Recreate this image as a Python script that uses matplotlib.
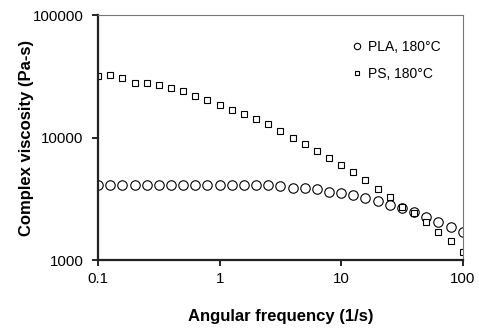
import numpy as np
import matplotlib.pyplot as plt
from matplotlib.lines import Line2D

plt.rcParams['font.family'] = ['Liberation Sans', 'DejaVu Sans']

# angular frequency, 10 points per decade from 0.1 to 100 1/s
freq = [0.1, 0.126, 0.158, 0.2, 0.251, 0.316, 0.398, 0.501, 0.631, 0.794,
        1.0, 1.26, 1.58, 2.0, 2.51, 3.16, 3.98, 5.01, 6.31, 7.94,
        10.0, 12.6, 15.8, 20.0, 25.1, 31.6, 39.8, 50.1, 63.1, 79.4, 100.0]

pla = [4080, 4080, 4080, 4080, 4080, 4080, 4080, 4080, 4080, 4080,
       4080, 4080, 4080, 4080, 4070, 3990, 3890, 3890, 3770, 3610,
       3540, 3370, 3200, 3050, 2840, 2640, 2480, 2260, 2040, 1850, 1680]

ps = [32000, 32200, 30800, 28000, 28000, 26700, 25400, 23900, 22000, 20400,
      18600, 16900, 15700, 14100, 12800, 11300, 10000, 8900, 7760, 6800,
      5980, 5190, 4490, 3790, 3260, 2720, 2420, 2030, 1690, 1430, 1170]

fig = plt.figure(figsize=(4.79, 3.30), dpi=100)
ax = fig.add_axes([0.2046, 0.212, 0.7614, 0.7425])

ax.plot(freq, pla, linestyle='none', marker='o', markersize=6.8,
        markerfacecolor='white', markeredgecolor='black', markeredgewidth=0.8)
ax.plot(freq, ps, linestyle='none', marker='s', markersize=4.6,
        markerfacecolor='white', markeredgecolor='black', markeredgewidth=0.8)

ax.set_xscale('log')
ax.set_yscale('log')
ax.set_xlim(0.1, 100)
ax.set_ylim(1000, 100000)

ax.set_xticks([0.1, 1, 10, 100])
ax.set_xticklabels(['0.1', '1', '10', '100'])
ax.set_yticks([1000, 10000, 100000])
ax.set_yticklabels(['1000', '10000', '100000'])
ax.minorticks_off()
ax.tick_params(axis='both', direction='out', length=4.3, width=1.2, labelsize=10.8)
ax.tick_params(axis='x', pad=4)
ax.tick_params(axis='y', pad=6)

for side in ['left', 'bottom']:
    ax.spines[side].set_linewidth(1.6)
    ax.spines[side].set_color('#222222')
for side in ['top', 'right']:
    ax.spines[side].set_linewidth(0.8)
    ax.spines[side].set_color('#777777')

ax.set_xlabel('Angular frequency (1/s)', fontsize=12, fontweight='bold')
ax.set_ylabel('Complex viscosity (Pa-s)', fontsize=12, fontweight='bold')
ax.xaxis.set_label_coords(0.5, -0.2)
ax.yaxis.set_label_coords(-0.175, 0.5)

handles = [
    Line2D([], [], linestyle='none', marker='o', markersize=4.6,
           markerfacecolor='white', markeredgecolor='black', markeredgewidth=0.8),
    Line2D([], [], linestyle='none', marker='s', markersize=3.3,
           markerfacecolor='white', markeredgecolor='black', markeredgewidth=0.8),
]
ax.legend(handles, ['PLA, 180°C', 'PS, 180°C'], loc='upper left',
          bbox_to_anchor=(0.664, 0.95), frameon=False, fontsize=10,
          handlelength=0.6, handletextpad=0.5, labelspacing=0.95)

fig.savefig('out.png', dpi=100)
